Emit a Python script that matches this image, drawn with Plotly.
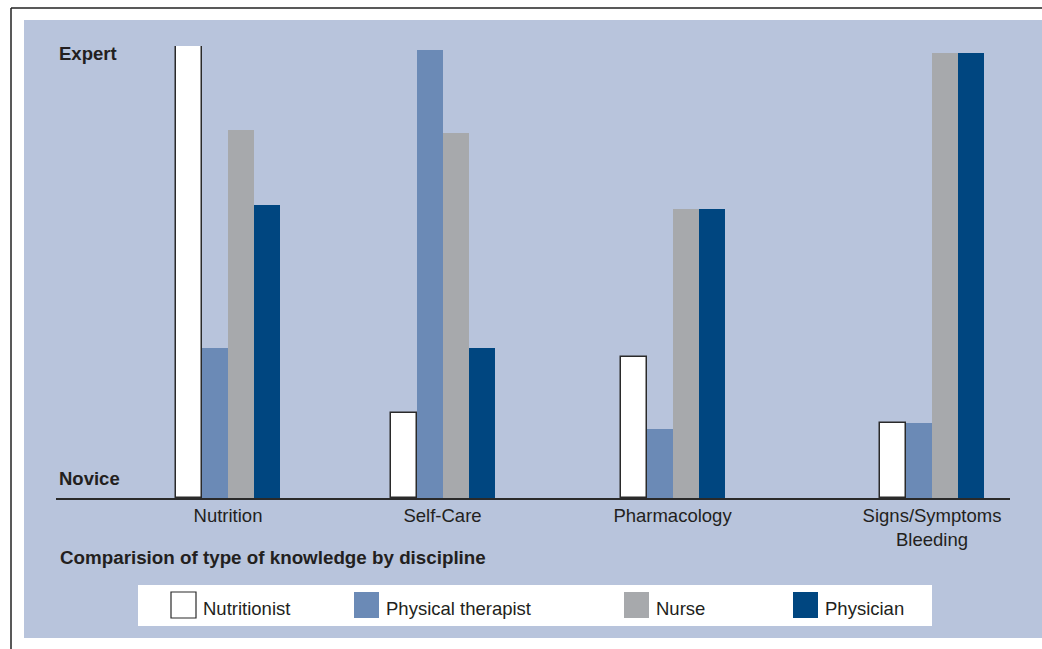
import plotly.graph_objects as go

# ---- data ----
categories = ["Nutrition", "Self-Care", "Pharmacology", "Signs/Symptoms<br>Bleeding"]
disciplines = ["Nutritionist", "Physical therapist", "Nurse", "Physician"]
nutritionist = [100, 18.8, 31.2, 16.6]
physical_therapist = [33.2, 99.1, 15.3, 16.6]
nurse = [81.4, 80.8, 63.9, 98.5]
physician = [64.8, 33.2, 63.9, 98.5]
scale_labels = ["Expert", "Novice"]
scale_values = [98.4, 4.4]
title_text = "Comparision of type of knowledge by discipline"

# ---- layout / style ----
W, H = 1042, 649
L, R, T, B = 56, 1010, 46, 498          # plot area in pixels
group_pos = [228, 442.5, 672.5, 932]     # category centres on x axis
bar_w = 26
colors = ["#ffffff", "#6b8ab6", "#a7a9ac", "#004680"]
line_cols = ["#2a2a2a", "#6b8ab6", "#a7a9ac", "#004680"]
line_w = [1.5, 0, 0, 0]
panel = "#b8c4dc"
txt = "#231f20"
font_family = "Liberation Sans, Arial, sans-serif"
fs = 18.5


def px(x):
    return (x - L) / (R - L)


def py(y):
    return (B - y) / (B - T)


series = [nutritionist, physical_therapist, nurse, physician]
fig = go.Figure()
n = len(series)
for i, (name, vals) in enumerate(zip(disciplines, series)):
    fig.add_trace(go.Bar(
        x=group_pos, y=vals, name=name,
        width=bar_w, offset=-bar_w * n / 2 + i * bar_w,
        marker=dict(color=colors[i], line=dict(color=line_cols[i], width=line_w[i])),
        showlegend=False,
    ))

shapes = [
    # background panel
    dict(type="rect", xref="paper", yref="paper", x0=px(24), x1=px(1042), y0=py(20), y1=py(638),
         fillcolor=panel, line=dict(width=0), layer="below"),
    # outer frame lines
    dict(type="line", xref="paper", yref="paper", x0=px(11), x1=px(1042), y0=py(8), y1=py(8),
         line=dict(color="#222222", width=1.5)),
    dict(type="line", xref="paper", yref="paper", x0=px(11), x1=px(11), y0=py(8), y1=py(649),
         line=dict(color="#222222", width=1.5)),
    # legend box
    dict(type="rect", xref="paper", yref="paper", x0=px(138), x1=px(932), y0=py(585), y1=py(626),
         fillcolor="#ffffff", line=dict(width=0)),
]

annotations = []
for lab, v in zip(scale_labels, scale_values):
    annotations.append(dict(text="<b>%s</b>" % lab, xref="paper", yref="y", x=px(57), y=v,
                            xanchor="left", yanchor="middle", showarrow=False,
                            font=dict(size=fs, color=txt, family=font_family)))
annotations.append(dict(text="<b>%s</b>" % title_text, xref="paper", yref="paper", x=px(58), y=py(557),
                        xanchor="left", yanchor="middle", showarrow=False,
                        font=dict(size=18.8, color=txt, family=font_family)))

# custom legend
sw_x = [171, 354, 624, 793]
for i, name in enumerate(disciplines):
    shapes.append(dict(type="rect", xref="paper", yref="paper",
                       x0=px(sw_x[i]), x1=px(sw_x[i] + 25), y0=py(592), y1=py(618),
                       fillcolor=colors[i],
                       line=dict(color="#2a2a2a" if i == 0 else colors[i], width=1.2 if i == 0 else 0)))
    annotations.append(dict(text=name, xref="paper", yref="paper", x=px(sw_x[i] + 30), y=py(608),
                            xanchor="left", yanchor="middle", showarrow=False,
                            font=dict(size=fs, color=txt, family=font_family)))

fig.update_layout(
    width=W, height=H,
    margin=dict(l=L, r=W - R, t=T, b=H - B, pad=0),
    paper_bgcolor="#ffffff", plot_bgcolor="rgba(0,0,0,0)",
    shapes=shapes, annotations=annotations,
    barmode="overlay", bargap=0,
    font=dict(family=font_family, size=fs, color=txt),
)
fig.update_xaxes(range=[L, R], tickvals=group_pos, ticktext=categories, showgrid=False,
                 zeroline=False, showline=True, linecolor="#2a2a2a", linewidth=2, ticks="",
                 tickfont=dict(size=fs, color=txt, family=font_family))
fig.update_yaxes(range=[0, 100], showgrid=False, zeroline=False, showticklabels=False, showline=False)

fig.write_html("out.html", config={"displayModeBar": False},
               post_script="document.body.style.margin='0';document.body.style.overflow='hidden';")
